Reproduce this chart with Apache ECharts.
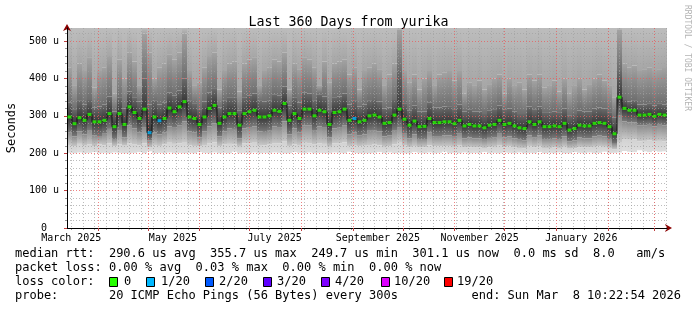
<!DOCTYPE html>
<html><head><meta charset="utf-8">
<script src="https://cdn.jsdelivr.net/npm/echarts@6/dist/echarts.min.js"></script>
<style>html,body{margin:0;padding:0;background:#fff}#c{width:697px;height:310px}</style>
</head><body><div id="c"></div>
<script>
// ---- time span & axis labels ----
const startTime = Date.parse('2025-03-13T10:22:54Z');
const endTime = Date.parse('2026-03-08T10:22:54Z');
const yMax = 535;
const monthStarts = ['2025-04-01','2025-05-01','2025-06-01','2025-07-01','2025-08-01','2025-09-01','2025-10-01','2025-11-01','2025-12-01','2026-01-01','2026-02-01','2026-03-01'];
const labelDates = ['2025-03-16','2025-05-16','2025-07-16','2025-09-16','2025-11-16','2026-01-16'];
const labelTexts = ['March 2025','May 2025','July 2025','September 2025','November 2025','January 2026'];
const firstSunday = '2025-03-16';
const yMajor = [0,100,200,300,400,500];
const yMinor = [20,40,60,80,120,140,160,180,220,240,260,280,320,340,360,380,420,440,460,480,520];

// ---- data: 120 columns of 3 days (values in microseconds) ----
const med = [297,279,295,288,304,284,284,288,306,271, 306,277,324,309,293,318,255,297,287,293,
 321,311,324,338,297,293,277,297,320,328, 280,297,306,306,275,306,311,315,297,297,
 300,315,312,333,288,306,293,318,318,300, 315,311,277,309,311,318,288,293,284,288,
 300,302,297,280,282,302,318,291,275,286, 271,272,293,282,282,284,284,279,288,273,
 277,273,273,268,275,277,288,277,280,273, 268,266,284,277,284,271,271,273,271,280,
 262,266,275,273,273,280,282,280,271,252, 350,320,315,315,302,302,304,299,304,302];
const loss = [0,0,0,0,0,0,0,0,0,0, 0,0,0,0,0,0,1,0,1,0,
 0,0,0,0,0,0,0,0,0,0, 0,0,0,0,0,0,0,0,0,0,
 0,0,0,0,0,0,0,0,0,0, 0,0,0,0,0,0,0,1,0,0,
 0,0,0,0,0,0,0,0,0,0, 0,0,0,0,0,0,0,0,0,0,
 0,0,0,0,0,0,0,0,0,0, 0,0,0,0,0,0,0,0,0,0,
 0,0,0,0,0,0,0,0,0,0, 0,0,0,0,0,0,0,0,0,0];
const lo = [201,200,202,200,201,203,200,201,200,202, 201,200,200,201,203,200,205,200,201,200,
 202,200,201,200,201,200,203,201,200,202, 200,201,200,204,200,201,200,202,200,201,
 200,202,201,200,200,203,201,200,202,200, 201,200,200,202,201,200,204,201,200,200,
 200,201,203,200,202,200,201,200,200,203, 201,200,202,200,201,204,200,201,200,202,
 200,201,200,203,200,201,200,202,201,200, 202,200,201,200,203,200,201,200,202,200,
 200,203,201,200,202,200,201,204,200,201, 202,206,204,203,208,205,203,206,204,205];
const p10 = [222,218,225,220,223,219,224,221,226,218, 224,220,227,223,221,226,215,222,219,224,
 228,225,226,230,221,219,218,222,227,229, 218,223,225,224,217,226,227,228,222,221,
 223,227,226,231,219,224,222,228,227,223, 226,225,217,226,227,229,219,222,218,220,
 222,223,221,217,218,224,230,220,216,219, 215,216,221,218,218,219,219,217,220,215,
 216,215,215,214,216,217,220,216,218,215, 214,213,219,216,219,214,214,215,214,217,
 212,213,216,215,215,217,218,217,214,210, 228,238,236,237,232,233,234,231,233,232];
const p25 = [255,245,258,250,262,247,246,252,265,238, 262,242,275,266,255,270,235,256,250,255,
 272,268,275,285,258,255,242,258,272,280, 245,258,266,265,240,266,270,272,258,257,
 260,272,270,285,250,266,255,275,275,260, 272,268,242,266,268,275,250,255,247,250,
 260,262,258,245,247,262,270,252,240,250, 238,238,255,246,246,248,248,244,252,240,
 242,240,240,236,241,243,252,242,245,240, 236,234,248,243,248,238,238,240,238,245,
 232,234,242,240,240,245,247,245,238,225, 300,285,282,282,275,275,276,272,276,274];
const p75 = [335,318,340,330,345,322,325,330,352,312, 348,320,365,350,338,400,330,340,330,335,
 362,355,368,400,340,332,318,338,362,372, 322,340,350,348,315,350,355,360,340,338,
 342,358,355,378,328,350,336,362,360,342, 358,352,318,350,352,360,330,340,325,330,
 340,345,338,320,322,345,420,332,315,328, 312,312,335,322,322,325,326,318,330,312,
 316,312,312,305,315,318,328,316,320,312, 305,305,325,316,325,310,310,312,310,320,
 300,305,314,312,312,320,322,320,310,295, 420,345,338,340,330,330,332,328,332,330];
const p90 = [430,380,440,420,455,375,420,430,460,360, 450,400,470,445,380,520,470,400,430,440,
 465,450,470,520,420,380,390,430,460,470, 370,420,440,445,365,440,450,455,380,420,
 430,450,445,470,370,440,425,455,450,430, 380,445,390,440,445,450,410,430,370,420,
 430,440,425,380,410,440,530,420,390,410, 370,400,420,380,410,415,420,395,420,360,
 390,380,395,370,385,400,410,360,400,380, 390,370,410,395,410,375,380,395,365,400,
 360,380,400,370,385,400,410,395,380,350, 530,440,430,435,420,425,430,420,425,428];

const lossColors = ['#26ff00','#00b8ff','#0059ff','#5e00ff','#7e00ff','#dd00ff','#ff0000'];
const lossLabels = ['0','1/20','2/20','3/20','4/20','10/20','19/20'];

const line1 = 'median rtt:  290.6 us avg  355.7 us max  249.7 us min  301.1 us now  0.0 ms sd  8.0   am/s';
const line2 = 'packet loss: 0.00 % avg  0.03 % max  0.00 % min  0.00 % now';
const line3 = 'loss color:';
const line4 = 'probe:       20 ICMP Echo Pings (56 Bytes) every 300s';
const line4r = 'end: Sun Mar  8 10:22:54 2026';
const titleText = 'Last 360 Days from yurika';

// ---- build ----
const DAY = 86400000;
const monthMs = monthStarts.map(d => Date.parse(d + 'T00:00:00Z'));
const labelMs = labelDates.map(d => Date.parse(d + 'T00:00:00Z'));
const weekMs = [];
for (let t = Date.parse(firstSunday + 'T00:00:00Z'); t < endTime; t += 7 * DAY) weekMs.push(t);
const cats = med.map((_, i) => i);
const diff = (a, b) => a.map((v, i) => Math.max(0, v - b[i]));
const topVals = med.map(() => yMax);
const G = (c0, c1) => new echarts.graphic.LinearGradient(0, 0, 0, 1, [{offset: 0, color: c0}, {offset: 1, color: c1}]);
const mono = '"DejaVu Sans Mono", monospace';

const bands = [
  {data: lo, color: 'rgba(0,0,0,0)'},
  {data: diff(p10, lo), color: G('#d2d2d2', '#dedede')},
  {data: diff(p25, p10), color: G('#8a8a8a', '#c8c8c8')},
  {data: diff(med, p25), color: G('#363636', '#7a7a7a')},
  {data: diff(p75, med), color: G('#6a6a6a', '#383838')},
  {data: diff(p90, p75), color: G('#a2a2a2', '#6e6e6e')},
  {data: diff(topVals, p90), color: G('#bdbdbd', '#a6a6a6')}
];
const series = bands.map(b => ({
  type: 'bar', stack: 'smoke', xAxisIndex: 0, yAxisIndex: 0, data: b.data,
  barCategoryGap: '0%', barGap: '0%', silent: true, z: 2,
  itemStyle: {color: b.color}, emphasis: {disabled: true}
}));
series.push({
  type: 'line', xAxisIndex: 0, yAxisIndex: 0, data: med, step: 'middle', symbol: 'none',
  lineStyle: {color: '#111', width: 1}, z: 15, silent: true
});
series.push({
  type: 'scatter', xAxisIndex: 0, yAxisIndex: 0, symbol: 'rect', symbolSize: [4, 3], z: 16, silent: true,
  data: med.map((v, i) => ({value: [i, v], itemStyle: {color: lossColors[loss[i]]}}))
});

const graphic = [
  {type: 'text', x: 15, y: 254, style: {text: line1, font: '12px ' + mono, fill: '#000', verticalAlign: 'middle'}},
  {type: 'text', x: 15, y: 268, style: {text: line2, font: '12px ' + mono, fill: '#000', verticalAlign: 'middle'}},
  {type: 'text', x: 15, y: 282, style: {text: line3, font: '12px ' + mono, fill: '#000', verticalAlign: 'middle'}},
  {type: 'text', x: 15, y: 296, style: {text: line4, font: '12px ' + mono, fill: '#000', verticalAlign: 'middle'}},
  {type: 'text', x: 681, y: 296, style: {text: line4r, font: '12px ' + mono, fill: '#000', verticalAlign: 'middle', align: 'right'}},
  {type: 'text', x: 687, y: 5, rotation: -Math.PI / 2, style: {text: 'RRDTOOL / TOBI OETIKER', font: '8px ' + mono, fill: '#b4b4b4', verticalAlign: 'middle'}}
];
const boxX = [109, 146, 205, 263, 321, 381, 444];
const txtX = [124, 161, 219, 277, 335, 394, 457];
lossColors.forEach((c, i) => {
  graphic.push({type: 'rect', shape: {x: boxX[i] + 0.5, y: 277.5, width: 8, height: 9}, style: {fill: c, stroke: '#000', lineWidth: 1}});
  graphic.push({type: 'text', x: txtX[i], y: 282, style: {text: lossLabels[i], font: '12px ' + mono, fill: '#000', verticalAlign: 'middle'}});
});

const chart = echarts.init(document.getElementById('c'), null, {renderer: 'canvas'});
chart.setOption({
  animation: false,
  backgroundColor: '#ffffff',
  title: {text: titleText, left: 'center', top: 11, textStyle: {fontFamily: mono, fontSize: 13.3, fontWeight: 'normal', color: '#000'}},
  grid: {left: 67, right: 30, top: 28, bottom: 82, containLabel: false, outerBoundsMode: 'none'},
  xAxis: [
    {type: 'category', data: cats, show: false, position: 'top', boundaryGap: true},
    {type: 'value', min: startTime, max: endTime, position: 'bottom', z: 10,
      axisLine: {show: true, onZero: false, lineStyle: {color: '#000', width: 1}},
      axisTick: {show: true, customValues: monthMs, length: 3, lineStyle: {color: '#c04040'}},
      axisLabel: {show: true, customValues: labelMs, margin: 5, fontFamily: mono, fontSize: 10, color: '#000',
        formatter: v => labelTexts[labelMs.indexOf(v)] || ''},
      splitLine: {show: true, lineStyle: {color: 'rgba(235,90,90,0.75)', type: [1, 2], width: 1}}},
    {type: 'value', min: startTime, max: endTime, position: 'bottom', z: 9,
      axisLine: {show: false, onZero: false}, axisLabel: {show: false},
      axisTick: {show: true, customValues: weekMs, length: 2, lineStyle: {color: '#999'}},
      splitLine: {show: true, lineStyle: {color: 'rgba(160,160,160,0.7)', type: [1, 2], width: 1}}},
    {type: 'value', min: startTime, max: endTime, position: 'bottom', z: 8,
      axisLine: {show: true, onZero: false, symbol: ['none', 'arrow'], symbolSize: [6, 7], symbolOffset: [0, 5], lineStyle: {color: '#8b0000', width: 1}},
      axisTick: {show: false}, axisLabel: {show: false}, splitLine: {show: false}}
  ],
  yAxis: [
    {type: 'value', min: 0, max: yMax, position: 'left', z: 10,
      name: 'Seconds', nameLocation: 'middle', nameGap: 49, nameRotate: 90,
      nameTextStyle: {fontFamily: mono, fontSize: 12, color: '#000'},
      axisLine: {show: true, onZero: false, lineStyle: {color: '#000', width: 1}},
      axisTick: {show: true, customValues: yMajor, length: 3, lineStyle: {color: '#c04040'}},
      axisLabel: {show: true, customValues: yMajor, margin: 8, fontFamily: mono, fontSize: 10, color: '#000',
        formatter: v => v === 0 ? '0  ' : v + ' u'},
      splitLine: {show: true, lineStyle: {color: 'rgba(235,90,90,0.75)', type: [1, 2], width: 1}}},
    {type: 'value', min: 0, max: yMax, position: 'left', z: 9,
      axisLine: {show: false, onZero: false}, axisLabel: {show: false},
      axisTick: {show: true, customValues: yMinor, length: 2, lineStyle: {color: '#999'}},
      splitLine: {show: true, lineStyle: {color: 'rgba(160,160,160,0.7)', type: [1, 2], width: 1}}},
    {type: 'value', min: 0, max: yMax, position: 'left', z: 8,
      axisLine: {show: true, onZero: false, symbol: ['none', 'arrow'], symbolSize: [6, 7], symbolOffset: [0, 4], lineStyle: {color: '#8b0000', width: 1}},
      axisTick: {show: false}, axisLabel: {show: false}, splitLine: {show: false}}
  ],
  graphic: graphic,
  series: series
});
</script>
</body></html>
